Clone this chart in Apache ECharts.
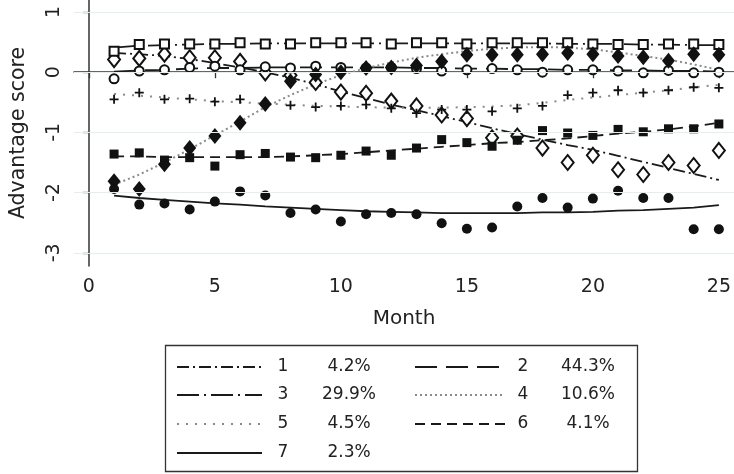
<!DOCTYPE html>
<html>
<head>
<meta charset="utf-8">
<script src="https://cdn.jsdelivr.net/npm/echarts@6/dist/echarts.min.js"></script>
<style>
html,body{margin:0;padding:0;background:#fff;}
#chart{width:734px;height:474px;}
</style>
</head>
<body>
<div id="chart"></div>
<script>
// ---- data ----
var months = [1,2,3,4,5,6,7,8,9,10,11,12,13,14,15,16,17,18,19,20,21,22,23,24,25];
var xTicks = [0,5,10,15,20,25];
var yTicks = [-3,-2,-1,0,1];
var groupNames = ['1','2','3','4','5','6','7'];
var groupShares = ['4.2%','44.3%','29.9%','10.6%','4.5%','4.1%','2.3%'];

// group 1 (hollow diamonds, dash-dot)
var obs1 = [0.21,0.23,0.30,0.24,0.24,0.18,-0.01,-0.05,-0.17,-0.33,-0.35,-0.48,-0.56,-0.71,-0.77,-1.09,-1.06,-1.26,-1.50,-1.38,-1.62,-1.70,-1.50,-1.55,-1.30];
var fit1 = [0.32,0.30,0.27,0.22,0.15,0.08,0.00,-0.09,-0.20,-0.32,-0.43,-0.54,-0.63,-0.73,-0.83,-0.93,-1.03,-1.12,-1.21,-1.29,-1.39,-1.49,-1.59,-1.69,-1.79];
// group 2 (hollow circles, long dash)
var obs2 = [-0.11,0.02,0.04,0.08,0.10,0.04,0.09,0.07,0.10,0.08,0.07,0.08,0.06,0.02,0.04,0.06,0.04,0.00,0.04,0.04,0.02,-0.01,0.03,-0.01,0.00];
var fit2 = [0.01,0.03,0.04,0.06,0.07,0.07,0.08,0.08,0.08,0.08,0.08,0.08,0.07,0.07,0.06,0.06,0.05,0.05,0.04,0.04,0.03,0.03,0.02,0.02,0.01];
// group 3 (hollow squares, long dash-dot)
var obs3 = [0.35,0.46,0.47,0.47,0.47,0.49,0.47,0.47,0.49,0.49,0.49,0.47,0.49,0.49,0.47,0.49,0.49,0.49,0.49,0.47,0.46,0.46,0.47,0.47,0.46];
var fit3 = [0.41,0.44,0.45,0.46,0.47,0.47,0.48,0.48,0.48,0.48,0.48,0.48,0.48,0.48,0.48,0.48,0.48,0.48,0.47,0.47,0.47,0.46,0.46,0.45,0.45];
// group 4 (filled diamonds, dotted)
var obs4 = [-1.81,-1.94,-1.53,-1.26,-1.06,-0.84,-0.53,-0.15,-0.04,0.00,0.07,0.08,0.11,0.18,0.29,0.29,0.29,0.30,0.32,0.30,0.27,0.25,0.19,0.30,0.29];
var fit4 = [-1.87,-1.70,-1.50,-1.28,-1.05,-0.82,-0.58,-0.38,-0.20,-0.05,0.07,0.16,0.24,0.30,0.35,0.39,0.41,0.42,0.41,0.38,0.33,0.27,0.21,0.13,0.04];
// group 5 (plus, sparse dots)
var obs5 = [-0.45,-0.34,-0.45,-0.44,-0.49,-0.45,-0.54,-0.55,-0.58,-0.56,-0.54,-0.60,-0.68,-0.62,-0.62,-0.65,-0.60,-0.56,-0.38,-0.34,-0.30,-0.34,-0.30,-0.25,-0.26];
var fit5 = [-0.36,-0.39,-0.42,-0.45,-0.48,-0.50,-0.52,-0.54,-0.56,-0.57,-0.58,-0.59,-0.59,-0.59,-0.58,-0.57,-0.55,-0.51,-0.46,-0.42,-0.38,-0.34,-0.30,-0.25,-0.21];
// group 6 (filled squares, short dash)
var obs6 = [-1.36,-1.34,-1.46,-1.42,-1.56,-1.37,-1.35,-1.41,-1.42,-1.38,-1.31,-1.38,-1.26,-1.12,-1.17,-1.23,-1.13,-0.97,-1.01,-1.05,-0.95,-0.99,-0.94,-0.94,-0.86];
var fit6 = [-1.40,-1.40,-1.41,-1.41,-1.41,-1.41,-1.41,-1.40,-1.38,-1.36,-1.33,-1.30,-1.27,-1.24,-1.21,-1.18,-1.16,-1.13,-1.10,-1.06,-1.02,-0.99,-0.95,-0.90,-0.84];
// group 7 (filled circles, solid)
var obs7 = [-1.94,-2.20,-2.18,-2.28,-2.15,-1.98,-2.05,-2.34,-2.28,-2.48,-2.36,-2.34,-2.36,-2.51,-2.60,-2.58,-2.23,-2.09,-2.25,-2.10,-1.97,-2.09,-2.09,-2.61,-2.61];
var fit7 = [-2.05,-2.09,-2.12,-2.15,-2.18,-2.20,-2.23,-2.25,-2.27,-2.29,-2.31,-2.32,-2.33,-2.34,-2.34,-2.34,-2.34,-2.33,-2.33,-2.32,-2.30,-2.29,-2.27,-2.25,-2.21];

var obsAll = [obs1,obs2,obs3,obs4,obs5,obs6,obs7];
var fitAll = [fit1,fit2,fit3,fit4,fit5,fit6,fit7];

// ---- styles ----
var DARK = '#1a1a1a', GRAY = '#8a8a8a';
var lineStyles = [
  {color: DARK, width: 1.8, type: [12,4,2,4]},
  {color: DARK, width: 1.8, type: [22,9]},
  {color: DARK, width: 1.8, type: [22,5,2,5]},
  {color: GRAY, width: 2, type: [2,3]},
  {color: GRAY, width: 2, type: [2,7]},
  {color: DARK, width: 1.8, type: [10,6]},
  {color: DARK, width: 1.8, type: 'solid'}
];
var PLUS = 'path://M4,0H6V4H10V6H6V10H4V6H0V4H4Z';
var symbols = [
  {symbol: 'emptyDiamond', size: [12,15], filled: false},
  {symbol: 'emptyCircle', size: 9, filled: false},
  {symbol: 'emptyRect', size: 9, filled: false},
  {symbol: 'diamond', size: [13,16], filled: true},
  {symbol: PLUS, size: 9, filled: true},
  {symbol: 'rect', size: 9, filled: true},
  {symbol: 'circle', size: 10, filled: true}
];

function pairs(arr){ return months.map(function(m,i){ return [m, arr[i]]; }); }

var series = [];
// gridlines
series.push({
  type: 'line', data: [], z: 0, silent: true,
  markLine: {
    silent: true, symbol: ['none','none'], label: {show: false},
    lineStyle: {color: '#e3efef', width: 1.2, type: 'solid'},
    animation: false,
    data: yTicks.map(function(v){ return {yAxis: v}; })
  }
});
for (var g = 0; g < 7; g++) {
  series.push({
    type: 'line', name: 'fit' + groupNames[g], data: pairs(fitAll[g]),
    showSymbol: false, symbol: 'none', z: 2,
    lineStyle: lineStyles[g], animation: false
  });
}
for (var g2 = 0; g2 < 7; g2++) {
  var s = symbols[g2];
  series.push({
    type: 'scatter', name: 'obs' + groupNames[g2], data: pairs(obsAll[g2]),
    symbol: s.symbol, symbolSize: s.size, z: 3,
    itemStyle: s.filled ? {color: '#111', opacity: 1} : {color: '#111', borderColor: '#111', borderWidth: 2, opacity: 1},
    animation: false
  });
}

// ---- legend via graphic ----
var legendX0 = [177, 415], legendX1 = [262, 505];
var numX = [283, 523], pctX = [349, 588];
var rowY = [367, 395, 424, 453];
var graphics = [{
  type: 'rect', shape: {x: 165.5, y: 345.5, width: 472, height: 126},
  style: {fill: '#fff', stroke: '#333', lineWidth: 1.3}, z: 10
}];
for (var k = 0; k < 7; k++) {
  var col = k % 2, row = Math.floor(k / 2);
  var ls = lineStyles[k];
  graphics.push({
    type: 'line', z: 11,
    shape: {x1: legendX0[col], y1: rowY[row], x2: legendX1[col], y2: rowY[row]},
    style: {stroke: ls.color, lineWidth: ls.width, lineDash: ls.type === 'solid' ? null : ls.type}
  });
  graphics.push({
    type: 'text', z: 11, x: numX[col], y: rowY[row],
    style: {text: groupNames[k], font: '17px "DejaVu Sans"', fill: '#222', align: 'center', verticalAlign: 'middle'}
  });
  graphics.push({
    type: 'text', z: 11, x: pctX[col], y: rowY[row],
    style: {text: groupShares[k], font: '17px "DejaVu Sans"', fill: '#222', align: 'center', verticalAlign: 'middle'}
  });
}

var chart = echarts.init(document.getElementById('chart'), null, {renderer: 'canvas'});
chart.setOption({
  animation: false,
  backgroundColor: '#fff',
  textStyle: {fontFamily: 'DejaVu Sans'},
  grid: {left: 71, right: 0, top: 0, bottom: 208, containLabel: false},
  xAxis: {
    type: 'value', min: -0.59, max: 25.6,
    name: 'Month', nameLocation: 'middle', nameGap: 43,
    nameTextStyle: {fontSize: 20, color: '#222', fontFamily: 'DejaVu Sans'},
    axisLine: {show: true, lineStyle: {color: '#333', width: 1.5}},
    axisTick: {show: true, length: 6, customValues: xTicks, lineStyle: {color: '#333', width: 1.3}},
    axisLabel: {customValues: xTicks, fontSize: 19, color: '#222', margin: 12, fontFamily: 'DejaVu Sans'},
    splitLine: {show: false}
  },
  yAxis: {
    type: 'value', min: -3.22, max: 1.2,
    name: 'Advantage score', nameLocation: 'middle', nameGap: 45, nameRotate: 90,
    nameTextStyle: {fontSize: 20.5, color: '#222', fontFamily: 'DejaVu Sans'},
    axisLine: {show: true, lineStyle: {color: '#333', width: 1.5}},
    axisTick: {show: true, length: 6, customValues: yTicks, lineStyle: {color: '#333', width: 1.3}},
    axisLabel: {customValues: yTicks, rotate: 90, fontSize: 19, color: '#222', margin: 10, fontFamily: 'DejaVu Sans'},
    splitLine: {show: false}
  },
  series: series,
  graphic: graphics
});
</script>
</body>
</html>
